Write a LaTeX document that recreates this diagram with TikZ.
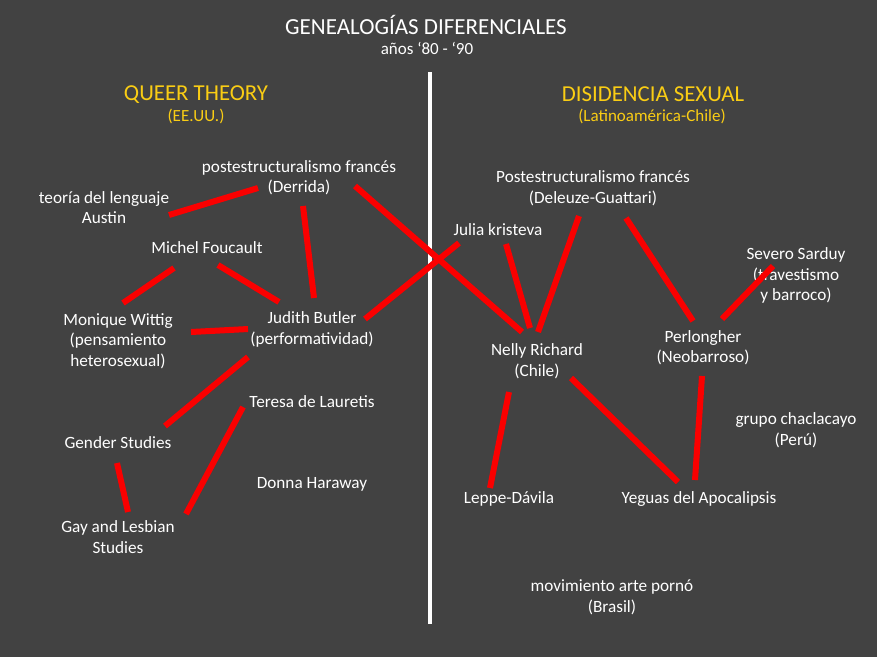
\documentclass[tikz,border=0pt]{standalone}
\usepackage{fontspec}
\setmainfont{Carlito}
\definecolor{bggray}{RGB}{66,66,66}
\definecolor{headyellow}{RGB}{250,205,20}
\definecolor{linkred}{RGB}{250,0,0}
\begin{document}
\begin{tikzpicture}[x=1pt,y=-1pt,
  lbl/.style={text=white, font=\fontsize{17.2}{20.5}\selectfont, align=center, inner sep=0pt},
  title/.style={text=white, font=\fontsize{23}{26}\selectfont, inner sep=0pt},
  head/.style={text=headyellow, font=\fontsize{22.8}{26}\selectfont, inner sep=0pt},
  sub/.style={text=headyellow, font=\fontsize{17}{20}\selectfont, inner sep=0pt},
  subw/.style={text=white, font=\fontsize{17}{20}\selectfont, inner sep=0pt},
  link/.style={draw=linkred, line width=6pt},
  divider/.style={draw=white, line width=4pt}]
\fill[bggray] (0,0) rectangle (877,657);
\useasboundingbox (0,0) rectangle (877,657);

% headings
\node[title] (ttl) at (426,25) {GENEALOGÍAS DIFERENCIALES};
\node[subw] (yrs) at (427,48) {años ‘80 - ‘90};
\node[head] (qt) at (196,95) {QUEER THEORY};
\node[sub] (qtsub) at (196,116) {(EE.UU.)};
\node[head] (ds) at (653,94) {DISIDENCIA SEXUAL};
\node[sub] (dssub) at (652,116) {(Latinoamérica-Chile)};

% dividing line
\coordinate (divtop) at (430,72);
\coordinate (divbot) at (430,624);
\draw[divider] (divtop) -- (divbot);

% left side
\node[lbl] (derrida) at (299,177.5) {postestructuralismo francés\\(Derrida)};
\node[lbl] (teoria) at (104,207.5) {teoría del lenguaje\\Austin};
\node[lbl] (foucault) at (207,248) {Michel Foucault};
\node[lbl] (wittig) at (118,341) {Monique Wittig\\(pensamiento\\heterosexual)};
\node[lbl] (butler) at (312,329.5) {Judith Butler\\(performatividad)};
\node[lbl] (teresa) at (312,402) {Teresa de Lauretis};
\node[lbl] (gender) at (118,443) {Gender Studies};
\node[lbl] (haraway) at (312,484) {Donna Haraway};
\node[lbl] (gaylesb) at (118,537) {Gay and Lesbian\\Studies};

% right side
\node[lbl] (deleuze) at (593,188) {Postestructuralismo francés\\(Deleuze-Guattari)};
\node[lbl] (kristeva) at (498,230) {Julia kristeva};
\node[lbl] (sarduy) at (796,275.5) {Severo Sarduy\\(travestismo\\y barroco)};
\node[lbl] (perlongher) at (703,347.5) {Perlongher\\(Neobarroso)};
\node[lbl] (nelly) at (537,361) {Nelly Richard\\(Chile)};
\node[lbl] (chaclacayo) at (796,430) {grupo chaclacayo\\(Perú)};
\node[lbl] (leppe) at (509,499) {Leppe-Dávila};
\node[lbl] (yeguas) at (699,499) {Yeguas del Apocalipsis};
\node[lbl] (porno) at (612,597.5) {movimiento arte pornó\\(Brasil)};

% connectors
\draw[link] ([shift={(65,7.5)}]teoria.center) -- ([shift={(-41,10.5)}]derrida.center);
\draw[link] ([shift={(4,28.5)}]derrida.center) -- ([shift={(2,-31.5)}]butler.center);
\draw[link] ([shift={(56,8.5)}]derrida.center) -- ([shift={(-15,-29)}]nelly.center);
\draw[link] ([shift={(-33,20)}]foucault.center) -- ([shift={(5,-38)}]wittig.center);
\draw[link] ([shift={(11,17)}]foucault.center) -- ([shift={(-33,-27.5)}]butler.center);
\draw[link] ([shift={(73,-9)}]wittig.center) -- ([shift={(-64,-0.5)}]butler.center);
\draw[link] ([shift={(53,-10.5)}]butler.center) -- ([shift={(-39,13)}]kristeva.center);
\draw[link] ([shift={(-64,27.5)}]butler.center) -- ([shift={(47,-17)}]gender.center);
\draw[link] ([shift={(-1,20)}]gender.center) -- ([shift={(10,-25)}]gaylesb.center);
\draw[link] ([shift={(-69,5)}]teresa.center) -- ([shift={(68,-23)}]gaylesb.center);
\draw[link] ([shift={(8,14)}]kristeva.center) -- ([shift={(-7,-33)}]nelly.center);
\draw[link] ([shift={(-14,28)}]deleuze.center) -- ([shift={(1,-29)}]nelly.center);
\draw[link] ([shift={(33,30)}]deleuze.center) -- ([shift={(-10,-26.5)}]perlongher.center);
\draw[link] ([shift={(-23,-9.5)}]sarduy.center) -- ([shift={(19,-28.5)}]perlongher.center);
\draw[link] ([shift={(-28,31)}]nelly.center) -- ([shift={(-19,-11)}]leppe.center);
\draw[link] ([shift={(34,17)}]nelly.center) -- ([shift={(-21,-17)}]yeguas.center);
\draw[link] ([shift={(-1,28.5)}]perlongher.center) -- ([shift={(-4,-19)}]yeguas.center);
\end{tikzpicture}
\end{document}
